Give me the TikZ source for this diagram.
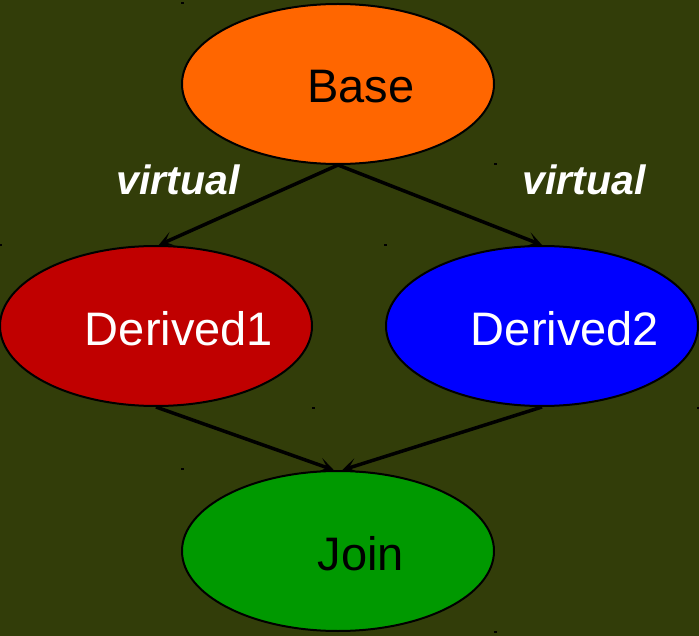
\documentclass[tikz,border=0pt]{standalone}
\usepackage{fontspec}
\setmainfont{Liberation Sans}
\usetikzlibrary{shapes.geometric,arrows.meta}
\definecolor{bgolive}{RGB}{50,61,9}
\definecolor{baseorange}{RGB}{255,102,0}
\definecolor{dredred}{RGB}{192,0,0}
\definecolor{dblue}{RGB}{0,0,255}
\definecolor{joingreen}{RGB}{0,153,0}
\tikzset{
  classnode/.style={ellipse, draw=black, line width=2pt, minimum width=312pt,
    minimum height=160pt, inner sep=0pt},
  classname/.style={font=\fontsize{47}{56}\selectfont, xshift=23pt, yshift=-3pt, inner sep=0pt},
  inherit/.style={line width=3.5pt, -{Stealth[length=15pt,width=15pt,inset=8pt]}},
  vlabel/.style={text=white, font=\fontsize{41}{48}\selectfont\bfseries\itshape},
  corner/.style={fill=black, minimum width=3pt, minimum height=2pt, inner sep=0pt}
}
\begin{document}
\begin{tikzpicture}[x=1pt,y=-1pt]
  \fill[bgolive] (0,0) rectangle (699,636);
  \useasboundingbox (0,0) rectangle (699,636);

  % class nodes
  \node[classnode, fill=baseorange, label={[classname, text=black]center:Base}] (base) at (338,84) {};
  \node[classnode, fill=dredred, label={[classname, text=white]center:Derived1}] (d1) at (156,326) {};
  \node[classnode, fill=dblue, label={[classname, text=white]center:Derived2}] (d2) at (542,326) {};
  \node[classnode, fill=joingreen, label={[classname, text=black]center:Join}] (join) at (338,551) {};

  % inheritance arrows
  \draw[inherit] (base.south) -- (d1.88);
  \draw[inherit] (base.south) -- (d2.north);
  \draw[inherit] (d1.south) -- (join.93);
  \draw[inherit] (d2.south) -- (join.87);

  % labels
  \node[vlabel] (v1) at (178,180) {virtual};
  \node[vlabel] (v2) at (584,180) {virtual};

  % bounding-box corner marks
  \node[corner] (c1) at (182,3) {};
  \node[corner] (c2) at (495,164) {};
  \node[corner] (c3) at (0.5,245) {};
  \node[corner] (c4) at (385,245) {};
  \node[corner] (c5) at (313,408) {};
  \node[corner] (c6) at (698.5,408) {};
  \node[corner] (c7) at (182,469) {};
  \node[corner] (c8) at (495,632) {};
\end{tikzpicture}
\end{document}
